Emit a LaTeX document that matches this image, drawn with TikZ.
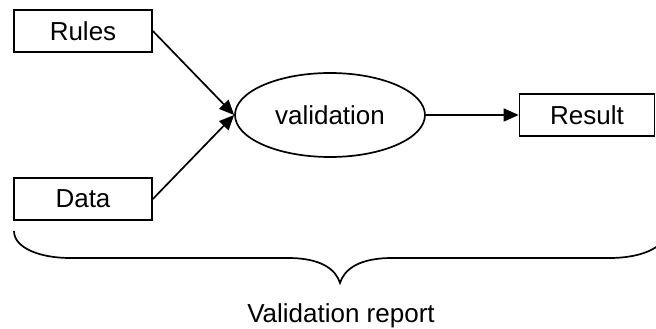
\documentclass[tikz,border=0pt]{standalone}
\usepackage{fontspec}
\setmainfont{Liberation Sans}
\usetikzlibrary{shapes.geometric,arrows.meta}
\begin{document}
\begin{tikzpicture}[x=1pt,y=-1pt,
  line width=1.7pt,
  box/.style={draw,rectangle,minimum height=42pt,inner sep=0pt,font=\fontsize{26}{30}\selectfont},
  oval/.style={draw,ellipse,minimum width=190pt,minimum height=84pt,inner sep=0pt,font=\fontsize{26}{30}\selectfont},
  arr/.style={-{Triangle[length=15pt,width=13pt]}},
  lbl/.style={font=\fontsize{26}{30}\selectfont}]
\useasboundingbox (0,0) rectangle (656,329);
\node[box,minimum width=138pt] (rules) at (83,31) {Rules};
\node[box,minimum width=138pt] (data) at (83,199) {Data};
\node[oval] (val) at (330,115) {validation};
\node[box,minimum width=135pt] (res) at (587,115) {Result};
\draw[arr] (rules.east) -- (val.west);
\draw[arr] (data.east) -- (val.west);
\draw[arr] (val.east) -- (res.west);
\begin{scope}
\clip (0,0) rectangle (656,329);
\draw (14,231) .. controls (14,248) and (40,258) .. (70,258) -- (288,258)
  .. controls (322,258) and (336,270) .. (340,283)
  .. controls (344,270) and (358,258) .. (392,258) -- (610,258)
  .. controls (640,258) and (666,248) .. (666,231);
\end{scope}
\node[lbl] (report) at (341,316) {Validation report};
\end{tikzpicture}
\end{document}
